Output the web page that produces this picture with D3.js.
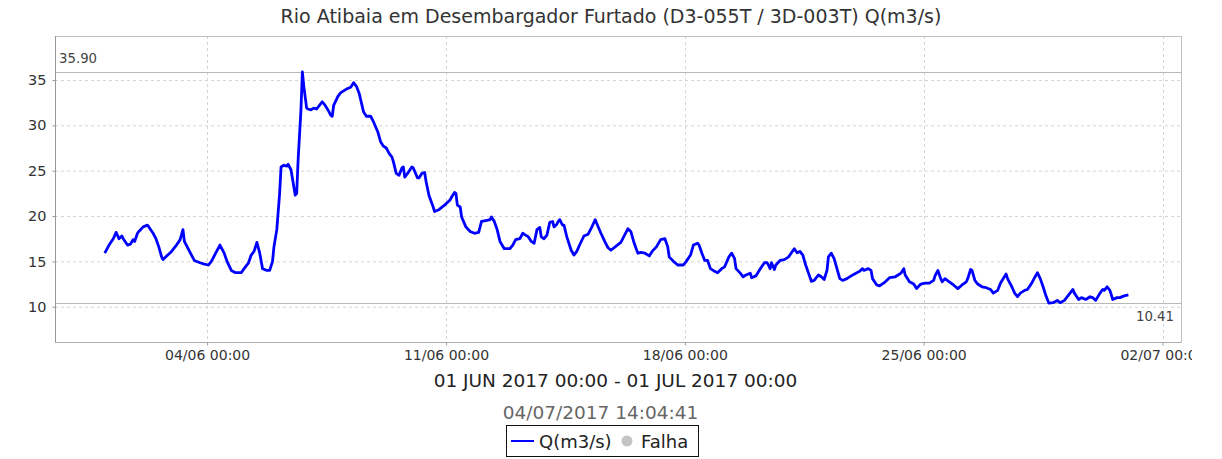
<!DOCTYPE html>
<html>
<head>
<meta charset="utf-8">
<script src="https://cdn.jsdelivr.net/npm/d3@7"></script>
<style>
  body { margin: 0; background: #fff; }
  text { font-family: "DejaVu Sans", sans-serif; }
</style>
</head>
<body>
<div class="chart-div"></div>
<script>
'use strict';

// hours after 01/06/2017 00:00
var hourOffsets = [
  0, 3, 6, 8, 10, 12, 13, 16, 18, 20, 21, 23, 24, 27, 30, 31, 34, 36, 38, 40,
  41, 43, 47, 50, 53, 55, 56, 58, 61, 63, 67, 70, 73, 75, 78, 81, 84, 86, 89, 92,
  96, 98, 101, 103, 105, 107, 109, 111, 114, 116, 118, 119, 121, 123, 124, 126, 128, 129, 131, 133,
  134, 135, 136, 138, 139, 140, 142, 143, 145, 147, 149, 151, 153, 155, 157, 159, 160, 161, 164, 166,
  170, 173, 175, 177, 179, 182, 184, 187, 189,
  192, 194, 196, 198, 200, 202, 203, 205, 207, 209, 210, 211, 213, 216, 217, 220, 221, 223, 225, 226,
  228, 231, 232, 235, 239, 243, 244, 246, 247, 248, 250, 251, 254, 257, 260, 263, 265, 268, 271, 272,
  274, 276, 278, 281, 285, 287, 289, 292, 294, 296, 298, 300, 302, 304, 306, 307, 309, 311, 313, 315,
  316, 318, 319, 320, 322, 323, 325, 328, 330, 332, 334, 337, 340, 342, 345, 346, 349, 352, 354, 356,
  359, 363, 365, 368, 370, 372, 374, 375, 377, 380, 383, 385, 388, 391, 394,
  396, 397, 400, 403, 407, 409, 412, 414, 417, 418, 420, 422, 424, 426, 429, 431, 434, 436, 439, 441,
  443, 444, 447, 449, 451, 454, 455, 458, 460, 462, 464, 466, 468, 469, 471, 472, 475, 478, 481, 483,
  485, 487, 489, 491, 493, 495, 497, 499, 502, 504, 506, 508, 509, 511, 513, 515, 517, 519, 522, 525,
  529, 531, 533, 534, 537, 539, 540, 543, 545,
  549, 552, 556, 558, 560, 562, 563, 566, 569, 571, 574, 577, 580, 583, 584, 586, 588, 589, 591, 594,
  597, 600, 603, 606, 607, 609, 610, 612, 614, 617, 620, 623, 625, 628, 630, 632, 634, 635, 638, 640,
  642, 644, 647, 649, 652, 654, 656, 658, 660, 662, 664, 667, 670, 672, 675, 678, 681, 682, 685, 687,
  690, 693, 695, 697, 700, 702, 703, 705, 707, 709, 712, 714, 717, 720
];

// Q(m3/s)
var flowValues = [
  15.9, 16.8, 17.5, 18.2, 17.5, 17.8, 17.5, 16.8, 16.9, 17.4, 17.2, 18.1, 18.3, 18.8, 19.0, 18.8, 18.1, 17.5, 16.6, 15.5,
  15.2, 15.5, 16.1, 16.7, 17.4, 18.5, 17.2, 16.6, 15.7, 15.1, 14.85, 14.7, 14.6, 15.0, 15.9, 16.8, 15.9, 15.0, 14.0, 13.75,
  13.75, 14.2, 14.8, 15.7, 16.1, 17.1, 15.9, 14.2, 14.0, 14.0, 15.0, 16.6, 18.5, 22.5, 25.4, 25.6, 25.5, 25.7, 25.1, 23.2,
  22.3, 22.5, 26.2, 31.7, 35.9, 34.3, 31.9, 31.8, 31.7, 31.9, 31.8, 32.2, 32.6, 32.2, 31.7, 31.1, 31.0, 32.2, 33.2, 33.6,
  34.0, 34.2, 34.7, 34.3, 33.5, 31.5, 31.0, 31.0, 30.4,
  29.3, 28.2, 27.7, 27.5, 26.9, 26.5, 26.0, 24.7, 24.5, 25.3, 25.4, 24.3, 24.7, 25.4, 25.3, 24.2, 24.2, 24.7, 24.8, 23.8,
  22.3, 21.0, 20.5, 20.7, 21.2, 21.8, 22.1, 22.6, 22.5, 21.2, 21.0, 19.9, 18.8, 18.3, 18.1, 18.2, 19.4, 19.5, 19.6, 19.9,
  19.4, 18.5, 17.2, 16.4, 16.4, 16.8, 17.4, 17.5, 18.1, 17.9, 17.7, 17.2, 17.0, 18.5, 18.75, 17.7, 17.5, 17.9, 19.3, 19.4,
  18.8, 19.1, 19.4, 19.6, 19.0, 19.0, 17.7, 16.25, 15.7, 16.1, 16.8, 17.8, 18.0, 18.6, 19.6, 19.2, 18.1, 17.1, 16.5, 16.25,
  16.6, 17.1, 17.7, 18.6, 18.3, 17.2, 16.3, 15.9, 16.0, 15.9, 15.6, 16.1, 16.6, 17.4, 17.5,
  16.6, 15.5, 15.0, 14.6, 14.6, 15.0, 15.7, 16.8, 17.0, 16.8, 15.9, 15.1, 15.1, 14.2, 13.9, 13.75, 14.2, 14.4, 15.5, 15.9,
  15.3, 14.2, 13.7, 13.3, 13.5, 13.7, 13.2, 13.4, 13.9, 14.4, 14.85, 14.85, 14.2, 14.85, 14.1, 14.6, 15.1, 15.2, 15.5, 15.95,
  16.4, 15.95, 16.1, 15.7, 14.6, 13.7, 12.8, 12.9, 13.5, 13.3, 13.0, 14.0, 15.5, 15.9, 15.3, 14.2, 13.1, 12.9, 13.1, 13.4,
  13.75, 13.9, 14.2, 14.0, 14.2, 14.0, 13.1, 12.4, 12.3,
  12.75, 13.2, 13.3, 13.5, 13.7, 14.2, 13.5, 12.75, 12.5, 12.0, 12.5, 12.6, 12.6, 12.9, 13.4, 14.0, 13.1, 12.75, 13.1, 12.75,
  12.4, 12.0, 12.4, 12.75, 13.1, 14.1, 14.0, 12.9, 12.5, 12.2, 12.1, 11.9, 11.5, 11.8, 12.6, 13.1, 13.6, 13.1, 12.2, 11.5,
  11.1, 11.5, 11.8, 11.9, 12.6, 13.2, 13.75, 13.1, 12.2, 11.2, 10.41, 10.45, 10.7, 10.45, 10.7, 11.3, 11.9, 11.5, 10.8, 11.0,
  10.8, 11.1, 11.0, 10.7, 11.5, 11.9, 11.8, 12.2, 11.8, 10.8, 11.0, 11.0, 11.2, 11.3
];

var yTicks = [10, 15, 20, 25, 30, 35];
var xTickDays = ["2017-06-04", "2017-06-11", "2017-06-18", "2017-06-25", "2017-07-02"];
var maxLabel = "35.90";
var minLabel = "10.41";

var titleText = "Rio Atibaia em Desembargador Furtado (D3-055T / 3D-003T) Q(m3/s)";
var periodText = "01 JUN 2017 00:00 - 01 JUL 2017 00:00";
var stampText = "04/07/2017 14:04:41";
var legendSeries = "Q(m3/s)";
var legendFail = "Falha";

var width = 1222;
var height = 459;
var plotLeft = 55, plotRight = 1181, plotTop = 36, plotBottom = 342;
var parseDay = d3.timeParse("%Y-%m-%d");
var startDate = new Date(2017, 5, 1, 0, 0);

var series = hourOffsets.map(function (h, i) {
    return { date: d3.timeHour.offset(startDate, h), value: flowValues[i] };
});

var x = d3.scaleTime()
    .domain([d3.timeMinute.offset(startDate, -35 * 60), d3.timeMinute.offset(startDate, 757 * 60)])
    .range([plotLeft, plotRight]);

var y = d3.scaleLinear()
    .domain([6.11, 39.85])
    .range([plotBottom, plotTop]);

function drawChart() {
    var svg = d3.select(".chart-div").append("svg")
        .attr("width", width)
        .attr("height", height);

    svg.append("clipPath").attr("id", "img-clip")
        .append("rect").attr("x", 0).attr("y", 0).attr("width", 1192).attr("height", height);
    svg.append("clipPath").attr("id", "plot-clip")
        .append("rect").attr("x", plotLeft).attr("y", plotTop)
        .attr("width", plotRight - plotLeft).attr("height", plotBottom - plotTop);

    // title
    svg.append("text")
        .attr("x", 611).attr("y", 23)
        .attr("text-anchor", "middle")
        .attr("font-size", "19px")
        .attr("fill", "#333")
        .text(titleText);

    // gridlines
    var grid = svg.append("g");
    grid.selectAll(".hgrid").data(yTicks).enter().append("line")
        .attr("x1", plotLeft).attr("x2", plotRight)
        .attr("y1", d => y(d) + 0.5).attr("y2", d => y(d) + 0.5)
        .attr("stroke", "#d4d4d4").attr("stroke-dasharray", "3,3");
    grid.selectAll(".vgrid").data(xTickDays).enter().append("line")
        .attr("x1", d => Math.round(x(parseDay(d))) + 0.5).attr("x2", d => Math.round(x(parseDay(d))) + 0.5)
        .attr("y1", plotTop).attr("y2", plotBottom)
        .attr("stroke", "#d4d4d4").attr("stroke-dasharray", "3,3");

    // plot outline
    svg.append("rect")
        .attr("x", plotLeft + 0.5).attr("y", plotTop + 0.5)
        .attr("width", plotRight - plotLeft).attr("height", plotBottom - plotTop)
        .attr("fill", "none").attr("stroke", "#c0c0c0");

    // max / min markers
    var markers = svg.append("g");
    markers.append("line")
        .attr("x1", plotLeft).attr("x2", plotRight)
        .attr("y1", Math.round(y(+maxLabel)) + 0.5).attr("y2", Math.round(y(+maxLabel)) + 0.5)
        .attr("stroke", "#b8b8b8");
    markers.append("line")
        .attr("x1", plotLeft).attr("x2", plotRight)
        .attr("y1", Math.round(y(+minLabel)) + 0.5).attr("y2", Math.round(y(+minLabel)) + 0.5)
        .attr("stroke", "#b8b8b8");
    markers.append("text")
        .attr("x", plotLeft + 4).attr("y", y(+maxLabel) - 9)
        .attr("font-family", "DejaVu Sans Mono").attr("font-size", "13.3px")
        .attr("fill", "#444")
        .text(maxLabel);
    markers.append("text")
        .attr("x", plotRight - 7).attr("y", y(+minLabel) + 18)
        .attr("text-anchor", "end")
        .attr("font-family", "DejaVu Sans Mono").attr("font-size", "13.3px")
        .attr("fill", "#444")
        .text(minLabel);

    // axes
    var yAxis = svg.append("g")
        .attr("transform", "translate(" + (plotLeft + 0.5) + ",0)")
        .call(d3.axisLeft(y).tickValues(yTicks).tickSize(3).tickPadding(6));
    yAxis.select(".domain").attr("stroke", "#999").attr("d", "M0," + plotTop + "V" + plotBottom);
    yAxis.selectAll(".tick line").attr("stroke", "#999");
    yAxis.selectAll(".tick text")
        .attr("font-family", "DejaVu Sans").attr("font-size", "14.5px").attr("fill", "#333");

    var xAxis = svg.append("g")
        .attr("clip-path", "url(#img-clip)")
        .attr("transform", "translate(0," + (plotBottom + 0.5) + ")")
        .call(d3.axisBottom(x).tickValues(xTickDays.map(parseDay))
            .tickFormat(d3.timeFormat("%d/%m %H:%M")).tickSize(3).tickPadding(5));
    xAxis.select(".domain").attr("stroke", "#999").attr("d", "M" + plotLeft + ",0H" + plotRight);
    xAxis.selectAll(".tick line").attr("stroke", "#999");
    xAxis.selectAll(".tick text")
        .attr("font-family", "DejaVu Sans").attr("font-size", "14px").attr("fill", "#333");

    // series
    var line = d3.line()
        .x(d => x(d.date))
        .y(d => y(d.value));
    svg.append("path")
        .datum(series)
        .attr("clip-path", "url(#plot-clip)")
        .attr("d", line)
        .attr("fill", "none")
        .attr("stroke", "#0000ff")
        .attr("stroke-width", 2.8)
        .attr("stroke-linejoin", "round");

    // period + timestamp
    svg.append("text")
        .attr("x", 615.5).attr("y", 387)
        .attr("text-anchor", "middle")
        .attr("font-size", "18.5px").attr("fill", "#222")
        .text(periodText);
    svg.append("text")
        .attr("x", 600.5).attr("y", 419)
        .attr("text-anchor", "middle")
        .attr("font-size", "18.5px").attr("fill", "#666")
        .text(stampText);

    drawLegend(svg);
}

function drawLegend(svg) {
    var legend = svg.append("g");
    legend.append("rect")
        .attr("x", 506.5).attr("y", 425.5)
        .attr("width", 192).attr("height", 31)
        .attr("fill", "#fff").attr("stroke", "#111");
    legend.append("line")
        .attr("x1", 511).attr("x2", 534)
        .attr("y1", 441).attr("y2", 441)
        .attr("stroke", "#0000ff").attr("stroke-width", 2);
    legend.append("text")
        .attr("x", 539).attr("y", 448)
        .attr("font-size", "18px").attr("fill", "#222")
        .text(legendSeries);
    legend.append("circle")
        .attr("cx", 627).attr("cy", 441).attr("r", 5.5)
        .attr("fill", "#c4c4c4");
    legend.append("text")
        .attr("x", 641).attr("y", 448)
        .attr("font-size", "18px").attr("fill", "#222")
        .text(legendFail);
}

drawChart();
</script>
</body>
</html>
